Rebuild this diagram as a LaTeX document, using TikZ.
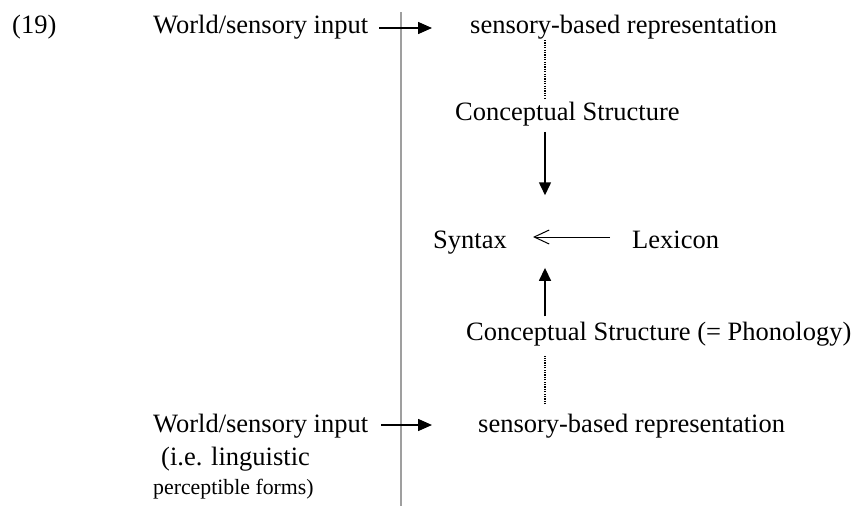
\documentclass[tikz,border=0pt]{standalone}
\usepackage{fontspec}
\setmainfont{Liberation Serif}
\usetikzlibrary{arrows.meta,calc}

\begin{document}
\begin{tikzpicture}[
	x=1pt, y=-1pt,
	txt/.style={anchor=base west, inner sep=0pt, font=\fontsize{26.5}{31}\selectfont},
	small/.style={anchor=base west, inner sep=0pt, font=\fontsize{21.8}{26}\selectfont},
	flow/.style={line width=1.5pt, -{Triangle[length=14pt,width=12pt]}},
	vflow/.style={line width=1.5pt, -{Triangle[length=13pt,width=12pt]}},
	feed/.style={line width=1pt, -{Straight Barb[length=15pt,width=14pt]}},
	link/.style={dash pattern=on 1.2pt off 1.2pt, line width=1.2pt}
]
\useasboundingbox (0,0) rectangle (856,506);

% --- Divider ---
\coordinate (divtop) at (401,12);
\coordinate (divbot) at (401,506);
\draw[gray!75, line width=1.6pt] (divtop) -- (divbot);
\coordinate (axis) at (545,0);

% --- Top row ---
\node[txt] (num) at (12,33) {(19)};
\node[txt] (in1) at (153,33) {World/sensory input};
\node[txt] (rep1) at (470,33) {sensory-based representation};

% --- Middle ---
\node[txt] (cs1) at (455,120) {Conceptual Structure};
\node[txt] (syn) at (433,248) {Syntax};
\node[txt] (lex) at (632,248) {Lexicon};
\node[txt] (cs2) at (466,340) {Conceptual Structure (= Phonology)};

% --- Bottom row ---
\node[txt] (in2) at (153,432) {World/sensory input};
\node[txt] (rep2) at (478,432) {sensory-based representation};
\node[txt] (ie) at (161,465) {(i.e. linguistic};
\node[small] (forms) at (153,494) {perceptible forms)};

% --- Edges ---
\draw[flow, shorten <=11pt, shorten >=38pt] ([yshift=5pt]in1.base east) -- ([yshift=5pt]in1.base east -| rep1.west);
\draw[flow, shorten <=13pt, shorten >=46pt] ([yshift=7pt]in2.base east) -- ([yshift=7pt]in2.base east -| rep2.west);
\draw[link, shorten <=1pt, shorten >=3pt] (rep1.south -| axis) -- (cs1.north -| axis);
\draw[vflow, shorten <=6pt, shorten >=35pt] (cs1.south -| axis) -- (syn.north -| axis);
\draw[feed, shorten <=22pt, shorten >=26pt] ([yshift=11pt]lex.base west) -- ([yshift=11pt]lex.base west -| syn.east);
\draw[vflow, shorten <=5pt, shorten >=14pt] (cs2.north -| axis) -- (syn.south -| axis);
\draw[link, shorten <=9pt, shorten >=10pt] (rep2.north -| axis) -- (cs2.south -| axis);

\end{tikzpicture}
\end{document}
